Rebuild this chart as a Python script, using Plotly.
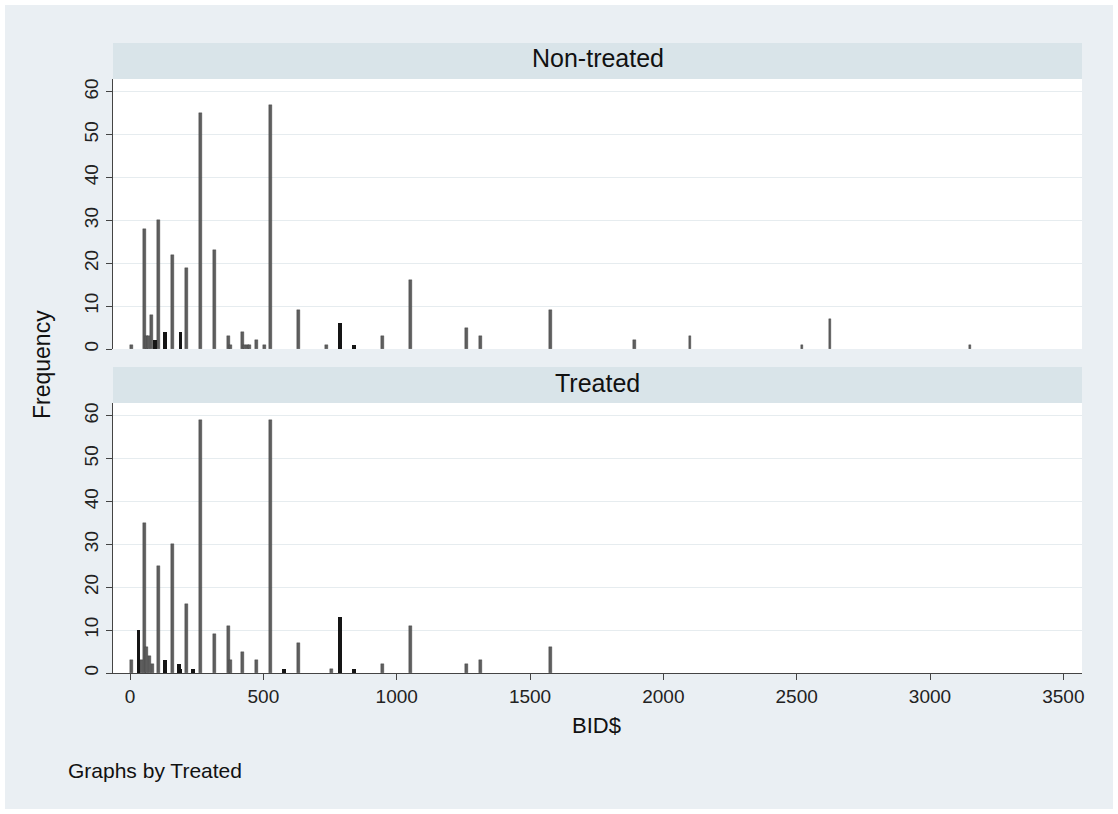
import plotly.graph_objects as go

# ---- data (BID$ values and frequencies) ----
bid_vals_nt = [5.25, 52.5, 63, 68.25, 78.75, 105, 157.5, 210, 262.5, 315, 367.5, 378, 420, 430.5,
               441, 446.25, 472.5, 504, 525, 630, 735, 945, 1050, 1260, 1312.5, 1575, 1890, 2100,
               2520, 2625, 3150]
freq_nt = [1, 28, 3, 3, 8, 30, 22, 19, 55, 23, 3, 1, 4, 1,
           1, 1, 2, 1, 57, 9, 1, 3, 16, 5, 3, 9, 2, 3,
           1, 7, 1]
bid_dark_nt = [94.5, 131.25, 189, 787.5, 840]
freq_dark_nt = [2, 4, 4, 6, 1]

bid_vals_t = [5.25, 42, 52.5, 63, 73.5, 84, 105, 157.5, 210, 262.5, 315, 367.5, 378, 420, 472.5,
              525, 630, 756, 945, 1050, 1260, 1312.5, 1575]
freq_t = [3, 3, 35, 6, 4, 2, 25, 30, 16, 59, 9, 11, 3, 5, 3,
          59, 7, 1, 2, 11, 2, 3, 6]
bid_dark_t = [31.5, 131.25, 183.75, 189, 236.25, 577.5, 787.5, 840]
freq_dark_t = [10, 3, 2, 1, 1, 1, 13, 1]

panel_labels = ["Non-treated", "Treated"]
x_ticks = [0, 500, 1000, 1500, 2000, 2500, 3000, 3500]
y_ticks = [0, 10, 20, 30, 40, 50, 60]

# ---- geometry ----
W, H = 1118, 814
ML, MR, MT, MB = 113, 36, 79, 141
PW = W - ML - MR
PH = H - MT - MB


def px_x(px):
    return (px - ML) / PW


def px_y(py):
    return (H - MB - py) / PH


FONT = "Liberation Sans, Arial, sans-serif"
BG = "#eaeff3"
STRIP = "#d9e4e9"
GRID = "#e6ecef"
GRAY = "#5e5e5e"
DARK = "#151515"

fig = go.Figure()
fig.add_trace(go.Bar(x=bid_vals_nt, y=freq_nt, width=11, marker=dict(color=GRAY, line=dict(color="#3c3c3c", width=0.4)),
                     xaxis="x", yaxis="y", showlegend=False))
fig.add_trace(go.Bar(x=bid_dark_nt, y=freq_dark_nt, width=14, marker=dict(color=DARK, line=dict(width=0)),
                     xaxis="x", yaxis="y", showlegend=False))
fig.add_trace(go.Bar(x=bid_vals_t, y=freq_t, width=11, marker=dict(color=GRAY, line=dict(color="#3c3c3c", width=0.4)),
                     xaxis="x2", yaxis="y2", showlegend=False))
fig.add_trace(go.Bar(x=bid_dark_t, y=freq_dark_t, width=14, marker=dict(color=DARK, line=dict(width=0)),
                     xaxis="x2", yaxis="y2", showlegend=False))

top_dom = [px_y(349), 1.0]
bot_dom = [0.0, px_y(403)]

yax = dict(range=[0, 63], tickvals=y_ticks, tickangle=-90, ticks="outside", ticklen=6,
           tickcolor="#444", showline=True, linecolor="#444", linewidth=1,
           showgrid=True, gridcolor=GRID, gridwidth=1, zeroline=False,
           tickfont=dict(family=FONT, size=19, color="#222"))

fig.update_layout(
    width=W, height=H,
    margin=dict(l=ML, r=MR, t=MT, b=MB),
    paper_bgcolor="white", plot_bgcolor="white",
    bargap=0, barmode="overlay",
    xaxis=dict(domain=[0, 1], anchor="y", range=[-64, 3570], showticklabels=False,
               ticks="", showline=False, showgrid=False, zeroline=False, matches="x2"),
    xaxis2=dict(domain=[0, 1], anchor="y2", range=[-64, 3570], tickvals=x_ticks,
                ticks="outside", ticklen=6, tickcolor="#444", showline=True, linecolor="#444",
                showgrid=False, zeroline=False,
                tickfont=dict(family=FONT, size=19, color="#222")),
    yaxis=dict(domain=top_dom, anchor="x", **yax),
    yaxis2=dict(domain=bot_dom, anchor="x2", **yax),
)

shapes = [
    dict(type="rect", xref="paper", yref="paper", x0=px_x(5), x1=px_x(1113), y0=px_y(809), y1=px_y(5),
         fillcolor=BG, line=dict(width=0), layer="below"),
    dict(type="rect", xref="paper", yref="paper", x0=0, x1=1, y0=top_dom[0], y1=top_dom[1],
         fillcolor="white", line=dict(width=0), layer="below"),
    dict(type="rect", xref="paper", yref="paper", x0=0, x1=1, y0=bot_dom[0], y1=bot_dom[1],
         fillcolor="white", line=dict(width=0), layer="below"),
    dict(type="rect", xref="paper", yref="paper", x0=0, x1=1, y0=px_y(79), y1=px_y(43),
         fillcolor=STRIP, line=dict(width=0), layer="below"),
    dict(type="rect", xref="paper", yref="paper", x0=0, x1=1, y0=px_y(403), y1=px_y(367),
         fillcolor=STRIP, line=dict(width=0), layer="below"),
]
fig.update_layout(shapes=shapes)

ann = [
    dict(text=panel_labels[0], x=0.5, y=px_y(58), xref="paper", yref="paper", showarrow=False,
         font=dict(family=FONT, size=25, color="#111"), xanchor="center", yanchor="middle"),
    dict(text=panel_labels[1], x=0.5, y=px_y(383), xref="paper", yref="paper", showarrow=False,
         font=dict(family=FONT, size=25, color="#111"), xanchor="center", yanchor="middle"),
    dict(text="Frequency", x=px_x(42), y=px_y(365), xref="paper", yref="paper", showarrow=False,
         textangle=-90, font=dict(family=FONT, size=23, color="#111"), xanchor="center", yanchor="middle"),
    dict(text="BID$", x=px_x(596), y=px_y(725), xref="paper", yref="paper", showarrow=False,
         font=dict(family=FONT, size=22, color="#111"), xanchor="center", yanchor="middle"),
    dict(text="Graphs by Treated", x=px_x(66), y=px_y(770), xref="paper", yref="paper", showarrow=False,
         font=dict(family=FONT, size=21, color="#111"), xanchor="left", yanchor="middle"),
]
fig.update_layout(annotations=ann)

fig.write_html("out.html", config={"displayModeBar": False},
               post_script="document.body.style.margin='0';")
